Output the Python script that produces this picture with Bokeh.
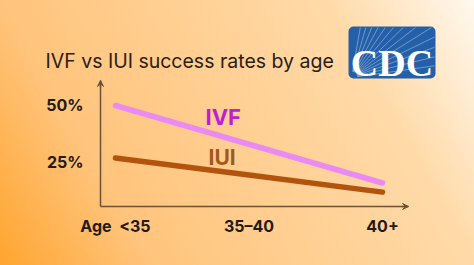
import math
from bokeh.plotting import figure
from bokeh.models import (Range1d, FixedTicker, Label, Arrow, VeeHead, BoxAnnotation)
from bokeh.embed import file_html
from bokeh.resources import INLINE

# ---- data ----
age_groups = ["<35", "35\u201340", "40+"]
age_pos = [0, 1, 2]
ivf_rate = [50, 33, 16]
iui_rate = [27, 19.5, 12]
y_ticks = [25, 50]
y_tick_labels = ["25%", "50%"]
x_axis_name = "Age"
title_text = "IVF vs IUI success rates by age"

W, H = 474, 265
X0, X1 = -0.861, 2.689
Y0, Y1 = -20.18, 96.05
p = figure(width=W, height=H, output_backend="svg", toolbar_location=None,
           x_range=Range1d(X0, X1), y_range=Range1d(Y0, Y1),
           min_border=0)
p.styles = {"background": "linear-gradient(60deg, #FFA530 0%, #FFC47C 24%, #FFCF92 50%, #FFDAA8 76%, #FFF8EE 100%)"}
p.background_fill_alpha = 0
p.border_fill_alpha = 0
p.outline_line_color = None
p.grid.visible = False

# pixel helpers (for decoration only)
def dx(px):
    return X0 + (X1 - X0) * px / W
def dy(py):
    return Y1 - (Y1 - Y0) * py / H

AX_X, AX_Y = dx(100), dy(206)
TOP_Y, RIGHT_X = dy(80), dx(408)

axis_col = "#6e5234"
for ax in (p.xaxis, p.yaxis):
    ax.axis_line_color = axis_col
    ax.axis_line_width = 1.5
    ax.major_tick_line_color = None
    ax.minor_tick_line_color = None
    ax.major_label_text_font = "Inter"
    ax.major_label_text_font_style = "bold"
    ax.major_label_text_font_size = "16px"
    ax.major_label_text_color = "#241a12"

p.yaxis.fixed_location = AX_X
p.yaxis.bounds = (AX_Y, TOP_Y)
p.yaxis.ticker = FixedTicker(ticks=y_ticks)
p.yaxis.major_label_overrides = {t: l for t, l in zip(y_ticks, y_tick_labels)}
p.yaxis.major_label_standoff = 11

xlabels = list(age_groups)
xlabels[0] = x_axis_name + "\u00a0\u00a0" + xlabels[0]
p.xaxis.fixed_location = AX_Y
p.xaxis.bounds = (AX_X, RIGHT_X)
p.xaxis.ticker = FixedTicker(ticks=age_pos)
p.xaxis.major_label_overrides = {t: l for t, l in zip(age_pos, xlabels)}
p.xaxis.major_label_standoff = 3

# lines
p.line(age_pos, ivf_rate, line_color="#EA8AF3", line_width=5.5, line_cap="round")
p.line(age_pos, iui_rate, line_color="#B3540E", line_width=5.5, line_cap="round")

# axis arrow heads
head = dict(size=6, line_color=axis_col, fill_color=axis_col, line_width=1)
p.add_layout(Arrow(end=VeeHead(**head), x_start=RIGHT_X - 0.05, y_start=AX_Y,
                   x_end=RIGHT_X, y_end=AX_Y, line_color=axis_col, line_width=1.5))
p.add_layout(Arrow(end=VeeHead(**head), x_start=AX_X, y_start=TOP_Y - 3,
                   x_end=AX_X, y_end=TOP_Y, line_color=axis_col, line_width=1.5))

# series labels
p.add_layout(Label(x=0.674, y=44.8, text="IVF", text_font="Inter", text_font_style="bold",
                   text_font_size="22px", text_color="#C01ED6", text_baseline="alphabetic"))
p.add_layout(Label(x=0.697, y=27.0, text="IUI", text_font="Inter", text_font_style="bold",
                   text_font_size="21px", text_color="#A3581C", text_baseline="alphabetic"))

# title
p.add_layout(Label(x=45, y=H - 60, x_units="screen", y_units="screen", text=title_text,
                   text_font="Inter", text_font_size="19.5px", text_color="#2a2017",
                   text_baseline="alphabetic"))

# CDC logo: box, light rays, text
bl, br, bt, bb = 348, 435, 26, 78
p.add_layout(BoxAnnotation(left=dx(bl), right=dx(br), top=dy(bt), bottom=dy(bb),
                           fill_color="#2460A9", fill_alpha=1, line_color=None,
                           border_radius=5))
ox, oy = 351, 77
xs0, ys0, xs1, ys1 = [], [], [], []
for deg in range(8, 84, 6):
    th = math.radians(deg)
    c, s = math.cos(th), math.sin(th)
    t = min((br - 1 - ox) / c, (oy - bt - 1) / s)
    xs0.append(dx(ox + 6 * c)); ys0.append(dy(oy - 6 * s))
    xs1.append(dx(ox + t * c)); ys1.append(dy(oy - t * s))
p.segment(xs0, ys0, xs1, ys1, line_color="white", line_alpha=0.35, line_width=1,
          level="overlay")
p.add_layout(Label(x=dx(391.5), y=dy(62), text="CDC", text_font="Liberation Serif",
                   text_font_style="bold", text_font_size="38px", text_color="white",
                   text_align="center", text_baseline="alphabetic", level="overlay"))

open("out.html", "w").write(file_html(p, INLINE))
